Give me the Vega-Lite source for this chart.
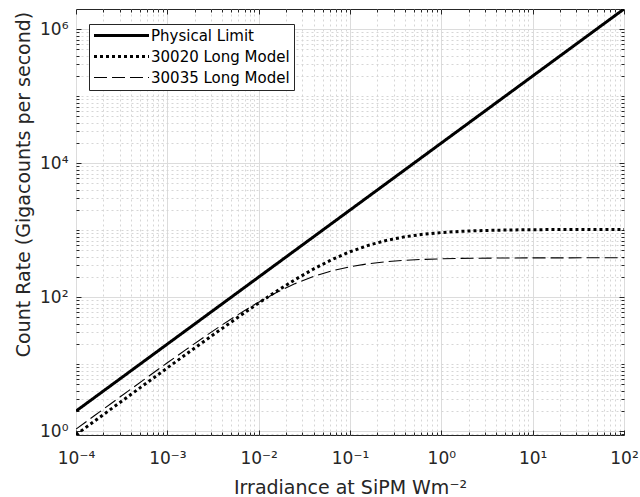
{
  "$schema": "https://vega.github.io/schema/vega-lite/v6.json",
  "width": 548,
  "height": 426,
  "autosize": {"type": "none"},
  "padding": {"left": 76, "top": 9, "right": 16, "bottom": 62},
  "background": "white",
  "config": {
    "font": "DejaVu Sans",
    "view": {"stroke": "#262626", "strokeWidth": 1},
    "axis": {"domain": false, "labelFont": "DejaVu Sans", "titleFont": "DejaVu Sans", "labelColor": "#262626", "titleColor": "#262626", "titleFontWeight": "normal", "tickColor": "#262626", "tickWidth": 1}
  },
  "data": {
    "values": [
      {"irr": 0.0001, "Physical Limit": 2, "30020 Long Model": 0.889, "30035 Long Model": 1.077},
      {"irr": 0.0001585, "Physical Limit": 3.17, "30020 Long Model": 1.409, "30035 Long Model": 1.704},
      {"irr": 0.0002512, "Physical Limit": 5.024, "30020 Long Model": 2.231, "30035 Long Model": 2.694},
      {"irr": 0.0003981, "Physical Limit": 7.962, "30020 Long Model": 3.531, "30035 Long Model": 4.252},
      {"irr": 0.000631, "Physical Limit": 12.62, "30020 Long Model": 5.586, "30035 Long Model": 6.697},
      {"irr": 0.001, "Physical Limit": 20, "30020 Long Model": 8.824, "30035 Long Model": 10.51},
      {"irr": 0.001585, "Physical Limit": 31.7, "30020 Long Model": 13.92, "30035 Long Model": 16.39},
      {"irr": 0.002512, "Physical Limit": 50.24, "30020 Long Model": 21.88, "30035 Long Model": 25.36},
      {"irr": 0.003981, "Physical Limit": 79.62, "30020 Long Model": 34.25, "30035 Long Model": 38.71},
      {"irr": 0.00631, "Physical Limit": 126.2, "30020 Long Model": 53.26, "30035 Long Model": 57.97},
      {"irr": 0.01, "Physical Limit": 200, "30020 Long Model": 81.92, "30035 Long Model": 84.48},
      {"irr": 0.01585, "Physical Limit": 317, "30020 Long Model": 124.1, "30035 Long Model": 118.8},
      {"irr": 0.02512, "Physical Limit": 502.4, "30020 Long Model": 183.7, "30035 Long Model": 159.7},
      {"irr": 0.03981, "Physical Limit": 796.2, "30020 Long Model": 263.6, "30035 Long Model": 203.9},
      {"irr": 0.0631, "Physical Limit": 1262, "30020 Long Model": 363.4, "30035 Long Model": 247.2},
      {"irr": 0.1, "Physical Limit": 2000, "30020 Long Model": 477.5, "30035 Long Model": 285.4},
      {"irr": 0.1585, "Physical Limit": 3170, "30020 Long Model": 595.4, "30035 Long Model": 316.3},
      {"irr": 0.2512, "Physical Limit": 5024, "30020 Long Model": 705.2, "30035 Long Model": 339.4},
      {"irr": 0.3981, "Physical Limit": 7962, "30020 Long Model": 798.1, "30035 Long Model": 355.9},
      {"irr": 0.631, "Physical Limit": 12620, "30020 Long Model": 870.4, "30035 Long Model": 367.1},
      {"irr": 1, "Physical Limit": 20000, "30020 Long Model": 923.2, "30035 Long Model": 374.5},
      {"irr": 1.585, "Physical Limit": 31700, "30020 Long Model": 960, "30035 Long Model": 379.4},
      {"irr": 2.512, "Physical Limit": 50240, "30020 Long Model": 984.7, "30035 Long Model": 382.5},
      {"irr": 3.981, "Physical Limit": 79620, "30020 Long Model": 1000.9, "30035 Long Model": 384.5},
      {"irr": 6.31, "Physical Limit": 126200, "30020 Long Model": 1011.5, "30035 Long Model": 385.8},
      {"irr": 10, "Physical Limit": 200000, "30020 Long Model": 1018.3, "30035 Long Model": 386.5},
      {"irr": 15.85, "Physical Limit": 317000, "30020 Long Model": 1022.7, "30035 Long Model": 387.1},
      {"irr": 25.12, "Physical Limit": 502400, "30020 Long Model": 1025.4, "30035 Long Model": 387.4},
      {"irr": 39.81, "Physical Limit": 796200, "30020 Long Model": 1027.1, "30035 Long Model": 387.6},
      {"irr": 63.1, "Physical Limit": 1262000, "30020 Long Model": 1028.1, "30035 Long Model": 387.8},
      {"irr": 100, "Physical Limit": 2000000, "30020 Long Model": 1028.8, "30035 Long Model": 387.9}
    ]
  },
  "transform": [
    {"fold": ["Physical Limit", "30020 Long Model", "30035 Long Model"], "as": ["series", "rate"]}
  ],
  "layer": [
    {
      "mark": {"type": "line", "opacity": 0},
      "encoding": {
        "x": {"field": "irr", "type": "quantitative", "scale": {"type": "log", "domain": [0.0001, 100], "nice": false},
          "axis": {"orient": "bottom", "values": [0.0002,0.0003,0.0004,0.0005,0.0006,0.0007,0.0008,0.0009,0.002,0.003,0.004,0.005,0.006,0.007,0.008,0.009,0.02,0.03,0.04,0.05,0.06,0.07,0.08,0.09,0.2,0.3,0.4,0.5,0.6,0.7,0.8,0.9,2,3,4,5,6,7,8,9,20,30,40,50,60,70,80,90],
            "labels": false, "title": null, "grid": true, "gridColor": "#d6d6d6", "gridDash": [2, 3], "gridWidth": 1, "ticks": true, "tickSize": -3}},
        "y": {"field": "rate", "type": "quantitative", "scale": {"type": "log", "domain": [0.88, 2000000], "nice": false},
          "axis": {"orient": "left", "values": [0.9,2,3,4,5,6,7,8,9,10,20,30,40,50,60,70,80,90,200,300,400,500,600,700,800,900,1000,2000,3000,4000,5000,6000,7000,8000,9000,20000,30000,40000,50000,60000,70000,80000,90000,100000,200000,300000,400000,500000,600000,700000,800000,900000],
            "labels": false, "title": null, "grid": true, "gridColor": "#d6d6d6", "gridDash": [2, 3], "gridWidth": 1, "ticks": true, "tickSize": -3}},
        "detail": {"field": "series"}
      }
    },
    {
      "mark": {"type": "line", "opacity": 0},
      "encoding": {
        "x": {"field": "irr", "type": "quantitative", "scale": {"type": "log", "domain": [0.0001, 100], "nice": false},
          "axis": {"orient": "bottom", "values": [0.0001,0.001,0.01,0.1,1,10,100], "labels": false, "title": null, "grid": true, "gridColor": "#dcdcdc", "gridWidth": 1, "ticks": true, "tickSize": -5}},
        "y": {"field": "rate", "type": "quantitative", "scale": {"type": "log", "domain": [0.88, 2000000], "nice": false},
          "axis": {"orient": "left", "values": [1,100,10000,1000000], "labels": false, "title": null, "grid": true, "gridColor": "#dcdcdc", "gridWidth": 1, "ticks": true, "tickSize": -5}},
        "detail": {"field": "series"}
      }
    },
    {
      "mark": {"type": "line", "opacity": 0},
      "encoding": {
        "x": {"field": "irr", "type": "quantitative", "scale": {"type": "log", "domain": [0.0001, 100], "nice": false},
          "axis": {"orient": "top", "values": [0.0001,0.001,0.01,0.1,1,10,100], "labels": false, "title": null, "grid": false, "ticks": true, "tickSize": -5}},
        "y": {"field": "rate", "type": "quantitative", "scale": {"type": "log", "domain": [0.88, 2000000], "nice": false},
          "axis": {"orient": "right", "values": [1,100,10000,1000000], "labels": false, "title": null, "grid": false, "ticks": true, "tickSize": -5}},
        "detail": {"field": "series"}
      }
    },
    {
      "mark": {"type": "line", "opacity": 0},
      "encoding": {
        "x": {"field": "irr", "type": "quantitative", "scale": {"type": "log", "domain": [0.0001, 100], "nice": false},
          "axis": {"orient": "top", "values": [0.0002,0.0003,0.0004,0.0005,0.0006,0.0007,0.0008,0.0009,0.002,0.003,0.004,0.005,0.006,0.007,0.008,0.009,0.02,0.03,0.04,0.05,0.06,0.07,0.08,0.09,0.2,0.3,0.4,0.5,0.6,0.7,0.8,0.9,2,3,4,5,6,7,8,9,20,30,40,50,60,70,80,90],
            "labels": false, "title": null, "grid": false, "ticks": true, "tickSize": -3}},
        "y": {"field": "rate", "type": "quantitative", "scale": {"type": "log", "domain": [0.88, 2000000], "nice": false},
          "axis": {"orient": "right", "values": [0.9,2,3,4,5,6,7,8,9,10,20,30,40,50,60,70,80,90,200,300,400,500,600,700,800,900,1000,2000,3000,4000,5000,6000,7000,8000,9000,20000,30000,40000,50000,60000,70000,80000,90000,100000,200000,300000,400000,500000,600000,700000,800000,900000],
            "labels": false, "title": null, "grid": false, "ticks": true, "tickSize": -3}},
        "detail": {"field": "series"}
      }
    },
    {
      "mark": {"type": "line", "clip": true, "color": "black", "strokeCap": "butt"},
      "encoding": {
        "x": {"field": "irr", "type": "quantitative", "scale": {"type": "log", "domain": [0.0001, 100], "nice": false},
          "axis": {"orient": "bottom", "values": [0.0001,0.001,0.01,0.1,1,10,100], "grid": false, "ticks": false, "labelPadding": 15, "labelFontSize": 17,
            "labelExpr": "datum.value < 0.0005 ? '10⁻⁴' : datum.value < 0.005 ? '10⁻³' : datum.value < 0.05 ? '10⁻²' : datum.value < 0.5 ? '10⁻¹' : datum.value < 5 ? '10⁰' : datum.value < 50 ? '10¹' : '10²'",
            "labelFlush": false, "labelOverlap": false,
            "title": "Irradiance at SiPM Wm⁻²", "titleFontSize": 19, "titlePadding": 12}},
        "y": {"field": "rate", "type": "quantitative", "scale": {"type": "log", "domain": [0.88, 2000000], "nice": false},
          "axis": {"orient": "left", "values": [1,100,10000,1000000], "grid": false, "ticks": false, "labelPadding": 8, "labelFontSize": 17,
            "labelExpr": "datum.value < 10 ? '10⁰' : datum.value < 1000 ? '10²' : datum.value < 100000 ? '10⁴' : '10⁶'",
            "labelFlush": false, "labelOverlap": false,
            "title": "Count Rate (Gigacounts per second)", "titleFontSize": 19, "titlePadding": 6, "titleY": 175}},
        "strokeDash": {"field": "series", "type": "nominal",
          "scale": {"type": "ordinal", "domain": ["Physical Limit", "30020 Long Model", "30035 Long Model"], "range": [[1, 0], [3, 3], [13, 5]]},
          "legend": {"title": null, "orient": "none", "legendX": 13, "legendY": 15, "fillColor": "white", "strokeColor": "#262626", "padding": 4, "symbolType": "M-5,0H5", "symbolSize": 121, "symbolOffset": 21, "labelOffset": 22, "symbolStrokeColor": "black", "labelFontSize": 15, "labelFont": "DejaVu Sans", "labelColor": "black", "rowPadding": 5}},
        "strokeWidth": {"field": "series", "type": "nominal",
          "scale": {"type": "ordinal", "domain": ["Physical Limit", "30020 Long Model", "30035 Long Model"], "range": [3, 3, 1.1]},
          "legend": {"title": null, "orient": "none", "legendX": 13, "legendY": 15, "fillColor": "white", "strokeColor": "#262626", "padding": 4, "symbolType": "M-5,0H5", "symbolSize": 121, "symbolOffset": 21, "labelOffset": 22, "symbolStrokeColor": "black", "labelFontSize": 15, "labelFont": "DejaVu Sans", "labelColor": "black", "rowPadding": 5}}
      }
    }
  ],
  "resolve": {"axis": {"x": "independent", "y": "independent"}}
}
